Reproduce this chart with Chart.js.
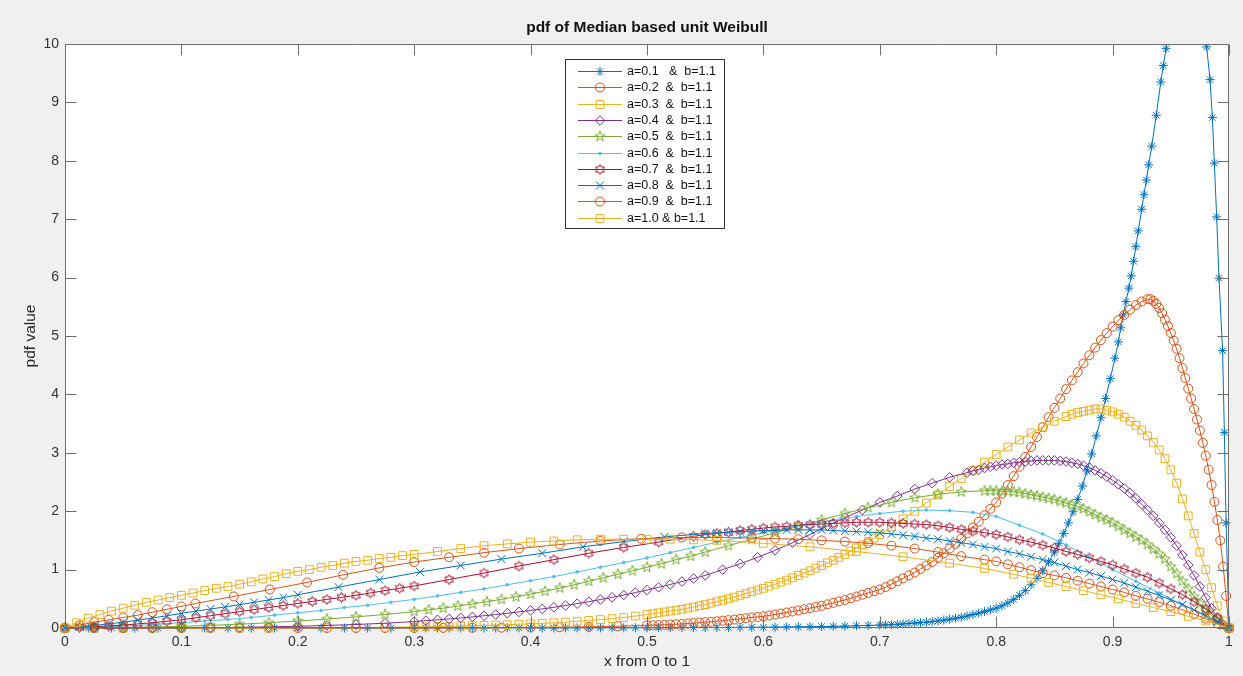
<!DOCTYPE html>
<html>
<head>
<meta charset="utf-8">
<script src="https://cdn.jsdelivr.net/npm/chart.js@4.4.0/dist/chart.umd.min.js"></script>
<style>
  html, body { margin: 0; padding: 0; background: #f0f0f0; }
  #c { display: block; }
</style>
</head>
<body>
<canvas id="c" width="1243" height="676"></canvas>
<script>
'use strict';

// legend texts, one per curve (b fixed at 1.1)
const seriesLabels = [
  'a=0.1   &  b=1.1', 'a=0.2  &  b=1.1', 'a=0.3  &  b=1.1', 'a=0.4  &  b=1.1', 'a=0.5  &  b=1.1',
  'a=0.6  &  b=1.1', 'a=0.7  &  b=1.1', 'a=0.8  &  b=1.1', 'a=0.9  &  b=1.1', 'a=1.0 & b=1.1'
];

const xTicks = [0, 0.1, 0.2, 0.3, 0.4, 0.5, 0.6, 0.7, 0.8, 0.9, 1];
const yTicks = [0, 1, 2, 3, 4, 5, 6, 7, 8, 9, 10];

// a=0.1
const x_a01 = [0,0.02,0.04,0.06,0.08,0.1,0.12,0.14,0.16,0.18,0.2,0.22,0.24,0.26,0.28,0.3,
  0.31,0.32,0.33,0.34,0.35,0.36,0.37,0.38,0.39,0.4,0.41,0.42,0.43,0.44,0.45,0.46,0.47,0.48,0.49,0.5,
  0.51,0.52,0.53,0.54,0.55,0.56,0.57,0.58,0.59,0.6,0.61,0.62,0.63,0.64,0.65,0.66,0.67,0.68,0.69,0.7,
  0.705,0.71,0.715,0.72,0.725,0.73,0.735,0.74,0.745,0.75,0.755,0.76,0.765,0.77,0.775,0.78,0.785,0.79,0.795,0.8,
  0.805,0.81,0.815,0.82,0.825,0.83,0.835,0.84,0.845,0.85,
  0.854,0.858,0.862,0.866,0.87,0.874,0.878,0.882,0.886,0.89,0.894,0.898,0.902,0.905,0.907,0.909,0.9115,0.914,0.916,0.918,0.92,0.922,0.925,0.927,0.929,0.931,0.9336,0.9375,0.9414,0.9436,0.9459,
  0.95,0.956,0.962,0.968,0.973,0.977,
  0.9808,0.9837,0.9857,0.9874,0.9894,0.9914,0.9945,0.996,0.9975,1];
const y_a01 = [0,0,0,0,0,0,0,0,0,0,0,0,0,0,0,0,
  0.001,0.001,0.001,0.001,0.001,0.001,0.001,0.002,0.002,0.002,0.002,0.002,0.003,0.003,0.003,0.003,0.004,0.004,0.005,0.005,
  0.006,0.006,0.007,0.007,0.008,0.009,0.01,0.011,0.012,0.013,0.015,0.017,0.019,0.022,0.025,0.029,0.033,0.038,0.044,0.05,
  0.054,0.058,0.064,0.07,0.077,0.085,0.092,0.1,0.11,0.12,0.135,0.15,0.167,0.185,0.205,0.23,0.255,0.28,0.31,0.34,
  0.38,0.43,0.49,0.56,0.64,0.74,0.85,0.98,1.13,1.3,
  1.45,1.62,1.8,1.99,2.2,2.43,2.69,2.98,3.29,3.6,3.93,4.27,4.62,4.9,5.14,5.36,5.59,5.82,6.03,6.28,6.53,6.8,7.17,7.42,7.67,7.93,8.25,8.78,9.35,9.63,9.92,
  10.35,10.9,11.3,11.45,11.3,10.7,
  9.95,9.39,8.74,7.96,7.04,5.99,4.75,3.35,1.8,0];

// a=0.2
const x_a02 = [0,0.025,0.05,0.075,0.1,0.125,0.15,0.175,0.2,0.225,0.25,0.275,0.3,0.325,0.35,0.375,0.4,0.425,0.45,0.475,0.5,
  0.505,0.51,0.515,0.52,0.525,0.53,0.535,0.54,0.545,0.55,0.555,0.56,0.565,0.57,0.575,0.58,0.585,0.59,0.595,0.6,
  0.605,0.61,0.615,0.62,0.625,0.63,0.635,0.64,0.645,0.65,0.655,0.66,0.665,0.67,0.675,0.68,0.685,0.69,0.695,0.7,
  0.705,0.71,0.715,0.72,0.725,0.73,0.735,0.74,0.745,0.75,0.755,0.76,0.765,0.77,0.775,0.78,0.785,0.79,0.795,0.8,
  0.805,0.81,0.815,0.82,0.825,0.83,0.835,0.84,0.845,0.85,0.855,0.86,0.865,0.87,0.875,0.88,0.885,0.89,0.895,0.9,
  0.905,0.91,0.915,0.92,0.925,0.93,
  0.9325,0.935,0.9375,0.94,0.9425,0.945,0.9475,0.95,0.9525,0.955,0.9575,0.96,0.9625,0.965,0.9675,0.97,0.9725,0.975,0.9775,0.98,0.9825,0.985,0.9875,0.99,0.9925,0.995,0.9975,1];
const y_a02 = [0,0,0,0,0,0,0,0,0,0,0,0.001,0.001,0.002,0.004,0.006,0.01,0.014,0.02,0.03,0.045,
  0.047,0.05,0.055,0.06,0.065,0.07,0.077,0.085,0.092,0.1,0.107,0.115,0.125,0.135,0.145,0.155,0.167,0.18,0.19,0.2,
  0.215,0.23,0.247,0.265,0.282,0.3,0.32,0.34,0.36,0.38,0.405,0.43,0.455,0.48,0.51,0.54,0.57,0.6,0.63,0.66,
  0.7,0.75,0.8,0.85,0.9,0.95,1.01,1.07,1.13,1.2,1.28,1.36,1.44,1.53,1.62,1.72,1.82,1.93,2.04,2.15,
  2.3,2.45,2.6,2.76,2.93,3.1,3.27,3.44,3.61,3.77,3.93,4.09,4.24,4.38,4.53,4.67,4.8,4.93,5.05,5.16,
  5.27,5.36,5.45,5.53,5.59,5.63,
  5.63,5.6,5.55,5.48,5.39,5.28,5.17,5.05,4.92,4.78,4.62,4.45,4.28,4.1,3.93,3.75,3.57,3.38,3.17,2.95,2.71,2.45,2.16,1.85,1.5,1.05,0.55,0];

// a=0.3
const x_a03 = [0,0.025,0.05,0.075,0.1,0.125,0.15,0.175,0.2,0.225,0.25,0.275,0.3,
  0.31,0.32,0.33,0.34,0.35,0.36,0.37,0.38,0.39,0.4,0.41,0.42,0.43,0.44,0.45,0.46,0.47,0.48,0.49,0.5,
  0.505,0.51,0.515,0.52,0.525,0.53,0.535,0.54,0.545,0.55,0.555,0.56,0.565,0.57,0.575,0.58,0.585,0.59,0.595,0.6,
  0.605,0.61,0.615,0.62,0.625,0.63,0.635,0.64,0.645,0.65,0.655,0.66,0.665,0.67,0.675,0.68,0.685,0.69,0.695,0.7,
  0.71,0.72,0.73,0.74,0.75,0.76,0.77,0.78,0.79,0.8,0.81,0.82,0.83,0.84,0.85,0.86,
  0.865,0.87,0.875,0.88,0.885,0.89,0.895,0.9,0.905,0.91,0.915,0.92,0.925,0.93,0.935,0.94,0.945,0.95,0.955,0.96,0.965,0.97,0.975,0.98,0.985,0.99,0.995,1];
const y_a03 = [0,0,0,0,0,0,0,0.001,0.003,0.005,0.008,0.012,0.018,
  0.021,0.025,0.029,0.034,0.04,0.045,0.051,0.057,0.064,0.072,0.08,0.09,0.1,0.115,0.13,0.145,0.16,0.18,0.205,0.23,
  0.245,0.26,0.275,0.29,0.305,0.32,0.34,0.36,0.38,0.4,0.425,0.45,0.475,0.5,0.53,0.56,0.59,0.62,0.65,0.68,
  0.715,0.75,0.785,0.82,0.86,0.9,0.94,0.98,1.025,1.07,1.115,1.16,1.21,1.26,1.315,1.37,1.425,1.48,1.54,1.6,
  1.73,1.87,2.0,2.14,2.28,2.42,2.56,2.7,2.84,2.97,3.1,3.22,3.34,3.44,3.54,3.62,
  3.66,3.69,3.71,3.73,3.75,3.75,3.73,3.7,3.66,3.61,3.54,3.47,3.39,3.29,3.18,3.05,2.9,2.71,2.48,2.21,1.92,1.62,1.3,1.0,0.69,0.38,0.12,0];

// a=0.4
const x_a04 = [0,0.025,0.05,0.075,0.1,0.125,0.15,0.175,0.2,0.225,0.25,0.275,0.3,
  0.31,0.32,0.33,0.34,0.35,0.36,0.37,0.38,0.39,0.4,0.41,0.42,0.43,0.44,0.45,0.46,0.47,0.48,0.49,0.5,0.51,0.52,0.53,0.54,0.55,
  0.565,0.58,0.595,0.61,0.625,0.64,0.655,0.67,0.685,0.7,0.715,0.73,0.745,0.76,0.775,
  0.78,0.785,0.79,0.795,0.8,0.805,0.81,0.815,0.82,0.825,0.83,0.835,0.84,0.845,0.85,0.855,0.86,0.865,0.87,0.875,0.88,0.885,0.89,0.895,0.9,
  0.905,0.91,0.915,0.92,0.925,0.93,0.935,0.94,0.945,0.95,0.955,0.96,0.965,0.97,0.975,0.98,0.985,0.99,0.995,1];
const y_a04 = [0,0,0.001,0.002,0.003,0.007,0.012,0.02,0.03,0.044,0.06,0.082,0.11,
  0.125,0.14,0.155,0.172,0.19,0.21,0.23,0.252,0.276,0.3,0.327,0.355,0.385,0.417,0.45,0.487,0.525,0.565,0.607,0.65,0.697,0.745,0.795,0.847,0.9,
  1.0,1.1,1.21,1.33,1.46,1.6,1.75,1.89,2.02,2.15,2.26,2.38,2.48,2.58,2.66,
  2.69,2.71,2.74,2.76,2.78,2.8,2.81,2.83,2.84,2.85,2.86,2.87,2.87,2.87,2.87,2.86,2.85,2.83,2.81,2.78,2.75,2.7,2.65,2.59,2.53,
  2.46,2.39,2.31,2.22,2.12,2.02,1.92,1.8,1.68,1.55,1.41,1.25,1.08,0.9,0.71,0.52,0.34,0.18,0.06,0];

// a=0.5
const x_a05 = [0,0.025,0.05,0.075,0.1,0.125,0.15,0.175,0.2,0.225,0.25,0.275,0.3,
  0.3125,0.325,0.3375,0.35,0.3625,0.375,0.3875,0.4,0.4125,0.425,0.4375,0.45,0.4625,0.475,0.4875,0.5,0.5125,0.525,0.5375,0.55,
  0.57,0.59,0.61,0.63,0.65,0.67,0.69,0.71,0.73,0.75,0.77,0.79,
  0.795,0.8,0.805,0.81,0.815,0.82,0.825,0.83,0.835,0.84,0.845,0.85,0.855,0.86,0.865,0.87,0.875,0.88,0.885,0.89,0.895,0.9,
  0.905,0.91,0.915,0.92,0.925,0.93,0.935,0.94,0.945,0.95,0.955,0.96,0.965,0.97,0.975,0.98,0.985,0.99,0.995,1];
const y_a05 = [0,0.002,0.006,0.015,0.028,0.045,0.065,0.09,0.12,0.153,0.19,0.232,0.28,
  0.31,0.34,0.375,0.41,0.45,0.49,0.535,0.58,0.63,0.685,0.74,0.8,0.86,0.92,0.98,1.04,1.1,1.17,1.23,1.3,
  1.41,1.52,1.63,1.74,1.85,1.96,2.06,2.15,2.23,2.29,2.33,2.35,
  2.35,2.35,2.34,2.34,2.33,2.32,2.3,2.28,2.26,2.24,2.22,2.2,2.17,2.14,2.11,2.08,2.04,1.99,1.94,1.89,1.85,1.8,
  1.74,1.68,1.62,1.56,1.5,1.43,1.35,1.27,1.18,1.05,0.93,0.8,0.67,0.54,0.42,0.31,0.21,0.12,0.05,0];

// a=0.6
const x_a06 = [0,0.02,0.04,0.06,0.08,0.1,0.12,0.14,0.16,0.18,0.2,0.22,0.24,0.26,0.28,0.3,0.32,0.34,0.36,0.38,
  0.4,0.42,0.44,0.46,0.48,0.5,0.52,0.54,0.56,0.58,0.6,0.62,0.64,0.66,0.68,0.7,0.72,0.74,0.76,0.78,
  0.8,0.82,0.84,0.86,0.88,0.9,0.92,0.94,0.96,0.98,1];
const y_a06 = [0,0.01,0.025,0.04,0.065,0.09,0.12,0.145,0.18,0.22,0.26,0.3,0.35,0.39,0.44,0.49,0.55,0.61,0.67,0.74,
  0.81,0.88,0.96,1.04,1.12,1.2,1.29,1.38,1.47,1.55,1.63,1.71,1.78,1.85,1.91,1.96,2.0,2.02,2.01,1.98,
  1.91,1.76,1.61,1.42,1.21,1.0,0.8,0.6,0.4,0.2,0];

// a=0.7
const x_a07 = [0,0.0125,0.025,0.0375,0.05,0.0625,0.075,0.0875,0.1,0.1125,0.125,0.1375,0.15,0.1625,0.175,0.1875,0.2,0.2125,0.225,0.2375,0.25,0.2625,0.275,0.2875,0.3,
  0.33,0.36,0.39,0.42,0.45,0.48,0.51,0.54,
  0.55,0.56,0.57,0.58,0.59,0.6,0.61,0.62,0.63,0.64,0.65,0.66,0.67,0.68,0.69,0.7,0.71,0.72,0.73,0.74,
  0.75,0.76,0.77,0.78,0.79,0.8,0.81,0.82,0.83,0.84,0.85,0.86,0.87,0.88,0.89,0.9,0.91,0.92,0.93,0.94,0.95,0.96,0.97,0.98,0.99,1];
const y_a07 = [0,0.01,0.02,0.035,0.05,0.07,0.09,0.115,0.14,0.175,0.21,0.245,0.28,0.315,0.35,0.385,0.42,0.455,0.49,0.525,0.56,0.6,0.64,0.68,0.72,
  0.83,0.94,1.06,1.17,1.28,1.38,1.47,1.57,
  1.6,1.62,1.64,1.67,1.69,1.71,1.73,1.74,1.76,1.77,1.78,1.79,1.8,1.81,1.81,1.81,1.8,1.79,1.78,1.77,
  1.75,1.72,1.69,1.66,1.63,1.6,1.56,1.51,1.47,1.42,1.37,1.31,1.26,1.2,1.14,1.08,1.01,0.94,0.87,0.77,0.67,0.57,0.45,0.33,0.17,0];

// a=0.8
const x_a08 = [0,0.0125,0.025,0.0375,0.05,0.0625,0.075,0.0875,0.1,0.1125,0.125,0.1375,0.15,0.1625,0.175,0.1875,0.2,
  0.235,0.27,0.305,0.34,0.375,0.41,0.445,0.48,0.515,0.55,
  0.56,0.57,0.58,0.59,0.6,0.61,0.62,0.63,0.64,0.65,0.66,0.67,0.68,0.69,0.7,0.71,0.72,0.73,0.74,0.75,
  0.76,0.77,0.78,0.79,0.8,0.81,0.82,0.83,0.84,0.85,0.86,0.87,0.88,0.89,0.9,0.91,0.92,0.93,0.94,0.95,0.96,0.97,0.98,0.99,1];
const y_a08 = [0,0.02,0.045,0.07,0.1,0.135,0.17,0.21,0.25,0.29,0.325,0.36,0.4,0.44,0.48,0.52,0.57,
  0.7,0.83,0.96,1.07,1.18,1.28,1.39,1.48,1.56,1.62,
  1.63,1.64,1.65,1.66,1.67,1.67,1.68,1.68,1.68,1.68,1.67,1.66,1.65,1.64,1.63,1.61,1.59,1.57,1.54,1.52,
  1.49,1.46,1.43,1.39,1.36,1.31,1.27,1.22,1.17,1.12,1.06,1.0,0.95,0.89,0.83,0.77,0.7,0.63,0.56,0.48,0.4,0.31,0.21,0.11,0];

// a=0.9
const x_a09 = [0,0.0125,0.025,0.0375,0.05,0.0625,0.075,0.0875,0.1,
  0.112,0.145,0.176,0.208,0.239,0.27,0.3,0.33,0.36,0.39,0.425,0.46,0.495,0.53,0.56,0.59,
  0.61,0.63,0.65,0.67,0.69,0.71,0.73,0.75,0.77,0.79,
  0.8,0.81,0.82,0.83,0.84,0.85,0.86,0.87,0.88,0.89,0.9,0.91,0.92,0.93,0.94,0.95,0.96,0.97,0.98,0.99,1];
const y_a09 = [0,0.05,0.1,0.14,0.18,0.22,0.27,0.32,0.37,
  0.42,0.54,0.66,0.78,0.91,1.03,1.13,1.21,1.29,1.36,1.43,1.49,1.53,1.55,1.55,1.54,
  1.53,1.52,1.5,1.48,1.45,1.41,1.36,1.3,1.23,1.17,
  1.14,1.09,1.04,0.99,0.94,0.9,0.86,0.81,0.76,0.71,0.66,0.61,0.55,0.5,0.44,0.38,0.31,0.24,0.16,0.08,0];

// a=1.0
const x_a10 = [0,0.01,0.02,0.03,0.04,0.05,0.06,0.07,0.08,0.09,0.1,0.11,0.12,0.13,0.14,0.15,0.16,0.17,0.18,0.19,0.2,
  0.21,0.22,0.23,0.24,0.25,0.26,0.27,0.28,0.29,0.3,
  0.32,0.34,0.36,0.38,0.4,0.42,0.44,0.46,0.48,0.5,0.52,0.54,0.56,
  0.6,0.64,0.68,0.72,0.76,0.79,
  0.815,0.83,0.845,0.86,0.875,0.89,0.905,0.92,0.935,0.95,0.965,0.98,1];
const y_a10 = [0,0.09,0.17,0.23,0.29,0.34,0.39,0.44,0.48,0.52,0.56,0.6,0.64,0.68,0.71,0.75,0.79,0.84,0.88,0.93,0.97,
  1.0,1.04,1.07,1.11,1.14,1.16,1.19,1.21,1.24,1.26,
  1.31,1.36,1.41,1.44,1.47,1.49,1.51,1.52,1.52,1.52,1.52,1.51,1.5,
  1.45,1.39,1.31,1.22,1.11,1.02,
  0.92,0.85,0.78,0.71,0.64,0.57,0.5,0.42,0.35,0.28,0.2,0.12,0];

const seriesX = [x_a01, x_a02, x_a03, x_a04, x_a05, x_a06, x_a07, x_a08, x_a09, x_a10];
const seriesY = [y_a01, y_a02, y_a03, y_a04, y_a05, y_a06, y_a07, y_a08, y_a09, y_a10];

// MATLAB default colour order
const lineColors = ['#0072BD', '#D95319', '#EDB120', '#7E2F8E', '#77AC30', '#4DBEEE', '#A2142F', '#0072BD', '#D95319', '#EDB120'];

// open star markers (pentagram / hexagram) as small canvases
function starMarker(points, outer, inner, color) {
  const size = Math.ceil(outer * 2 + 3);
  const cv = document.createElement('canvas');
  cv.width = cv.height = size;
  const g = cv.getContext('2d');
  const c = size / 2;
  g.beginPath();
  for (let k = 0; k < points * 2; k++) {
    const r = k % 2 ? inner : outer;
    const ang = -Math.PI / 2 + k * Math.PI / points;
    g.lineTo(c + r * Math.cos(ang), c + r * Math.sin(ang));
  }
  g.closePath();
  g.strokeStyle = color;
  g.lineWidth = 1;
  g.stroke();
  return cv;
}

const markers = [
  { style: 'star', r: 4.5 },
  { style: 'circle', r: 4.5 },
  { style: 'rect', r: 5.5 },
  { style: 'rectRot', r: 4.8 },
  { style: starMarker(5, 5.5, 2.3, lineColors[4]), r: 5 },
  { style: 'circle', r: 1.3, filled: true },
  { style: starMarker(6, 5, 2.9, lineColors[6]), r: 5 },
  { style: 'crossRot', r: 5.5 },
  { style: 'circle', r: 4.5 },
  { style: 'rect', r: 5.5 }
];

const FONT = '"Liberation Sans", Arial, Helvetica, sans-serif';

const datasets = seriesLabels.map((label, i) => ({
  label,
  data: seriesX[i].map((x, j) => ({ x, y: seriesY[i][j] })),
  borderColor: lineColors[i],
  borderWidth: 1,
  pointStyle: markers[i].style,
  pointRadius: markers[i].r,
  pointBorderColor: lineColors[i],
  pointBackgroundColor: markers[i].filled ? lineColors[i] : 'rgba(0,0,0,0)',
  pointBorderWidth: 1,
  tension: 0,
  order: 9 - i,
  clip: { left: 10, top: 0, right: 10, bottom: 10 }
}));

// white axes area
const axesBackground = {
  id: 'axesBackground',
  beforeDraw(chart) {
    const { ctx, chartArea: a } = chart;
    ctx.save();
    ctx.fillStyle = '#ffffff';
    ctx.fillRect(a.left, a.top, a.right - a.left, a.bottom - a.top);
    ctx.restore();
  }
};

// MATLAB style box with inward ticks on all four sides
const axesBox = {
  id: 'axesBox',
  afterDatasetsDraw(chart) {
    const { ctx, chartArea: a, scales } = chart;
    const L = Math.round(a.left) + 0.5, R = Math.round(a.right) - 0.5;
    const T = Math.round(a.top) + 0.5, B = Math.round(a.bottom) - 0.5;
    const len = 11;
    ctx.save();
    ctx.strokeStyle = '#6e6e6e';
    ctx.lineWidth = 1;
    ctx.beginPath();
    ctx.rect(L, T, R - L, B - T);
    xTicks.forEach(v => {
      const px = Math.round(scales.x.getPixelForValue(v)) + 0.5;
      ctx.moveTo(px, B); ctx.lineTo(px, B - len);
      ctx.moveTo(px, T); ctx.lineTo(px, T + len);
    });
    yTicks.forEach(v => {
      const py = Math.round(scales.y.getPixelForValue(v)) + 0.5;
      ctx.moveTo(L, py); ctx.lineTo(L + len, py);
      ctx.moveTo(R, py); ctx.lineTo(R - len, py);
    });
    ctx.stroke();
    ctx.restore();
  }
};

// boxed legend inside the axes, near the top centre
const boxLegend = {
  id: 'boxLegend',
  afterDraw(chart) {
    const ctx = chart.ctx;
    const x0 = 565, y0 = 59, w = 159, h = 169, row = 16.3;
    ctx.save();
    ctx.fillStyle = '#ffffff';
    ctx.fillRect(x0, y0, w, h);
    ctx.strokeStyle = '#333333';
    ctx.lineWidth = 1;
    ctx.strokeRect(x0 + 0.5, y0 + 0.5, w, h);
    ctx.font = '12.5px ' + FONT;
    ctx.textBaseline = 'middle';
    ctx.textAlign = 'left';
    chart.data.datasets.forEach((ds, i) => {
      const y = Math.round(y0 + 12 + i * row) + 0.5;
      ctx.strokeStyle = ds.borderColor;
      ctx.lineWidth = 1;
      ctx.beginPath();
      ctx.moveTo(578, y);
      ctx.lineTo(622, y);
      ctx.stroke();
      ctx.fillStyle = ds.pointBackgroundColor;
      ctx.strokeStyle = ds.pointBorderColor;
      if (Chart.helpers && Chart.helpers.drawPoint) {
        Chart.helpers.drawPoint(ctx, { pointStyle: ds.pointStyle, radius: ds.pointRadius, borderWidth: 1, rotation: 0 }, 600, y);
      }
      ctx.fillStyle = '#111111';
      ctx.fillText(ds.label, 627, y);
    });
    ctx.restore();
  }
};

new Chart(document.getElementById('c'), {
  type: 'line',
  data: { datasets },
  plugins: [axesBackground, axesBox, boxLegend],
  options: {
    responsive: false,
    devicePixelRatio: 1,
    animation: false,
    events: [],
    layout: { padding: { left: 0, right: 14, top: 0, bottom: 0 } },
    plugins: {
      legend: { display: false },
      tooltip: { enabled: false },
      title: {
        display: true,
        text: 'pdf of Median based unit Weibull',
        fullSize: false,
        color: '#111111',
        font: { family: FONT, size: 15.5, weight: 'bold' },
        padding: { top: 18, bottom: 7.4 }
      }
    },
    scales: {
      x: {
        type: 'linear',
        min: 0, max: 1,
        afterFit(scale) { scale.height = 48; },
        afterBuildTicks(scale) { scale.ticks = xTicks.map(v => ({ value: v })); },
        ticks: {
          padding: 6,
          color: '#333333',
          font: { family: FONT, size: 14 },
          maxRotation: 0,
          callback: v => String(Math.round(v * 10) / 10)
        },
        grid: { display: false, drawTicks: false },
        border: { display: false },
        title: {
          display: true,
          text: 'x from 0 to 1',
          color: '#262626',
          font: { family: FONT, size: 15.5 },
          padding: { top: 0, bottom: 5 }
        }
      },
      y: {
        type: 'linear',
        min: 0, max: 10,
        afterFit(scale) { scale.width = 65; },
        afterBuildTicks(scale) { scale.ticks = yTicks.map(v => ({ value: v })); },
        ticks: {
          padding: 6,
          color: '#333333',
          font: { family: FONT, size: 14 },
          callback: v => String(v)
        },
        grid: { display: false, drawTicks: false },
        border: { display: false },
        title: {
          display: true,
          text: 'pdf value',
          color: '#262626',
          font: { family: FONT, size: 15.5 },
          padding: { top: 21, bottom: 0 }
        }
      }
    }
  }
});
</script>
</body>
</html>
